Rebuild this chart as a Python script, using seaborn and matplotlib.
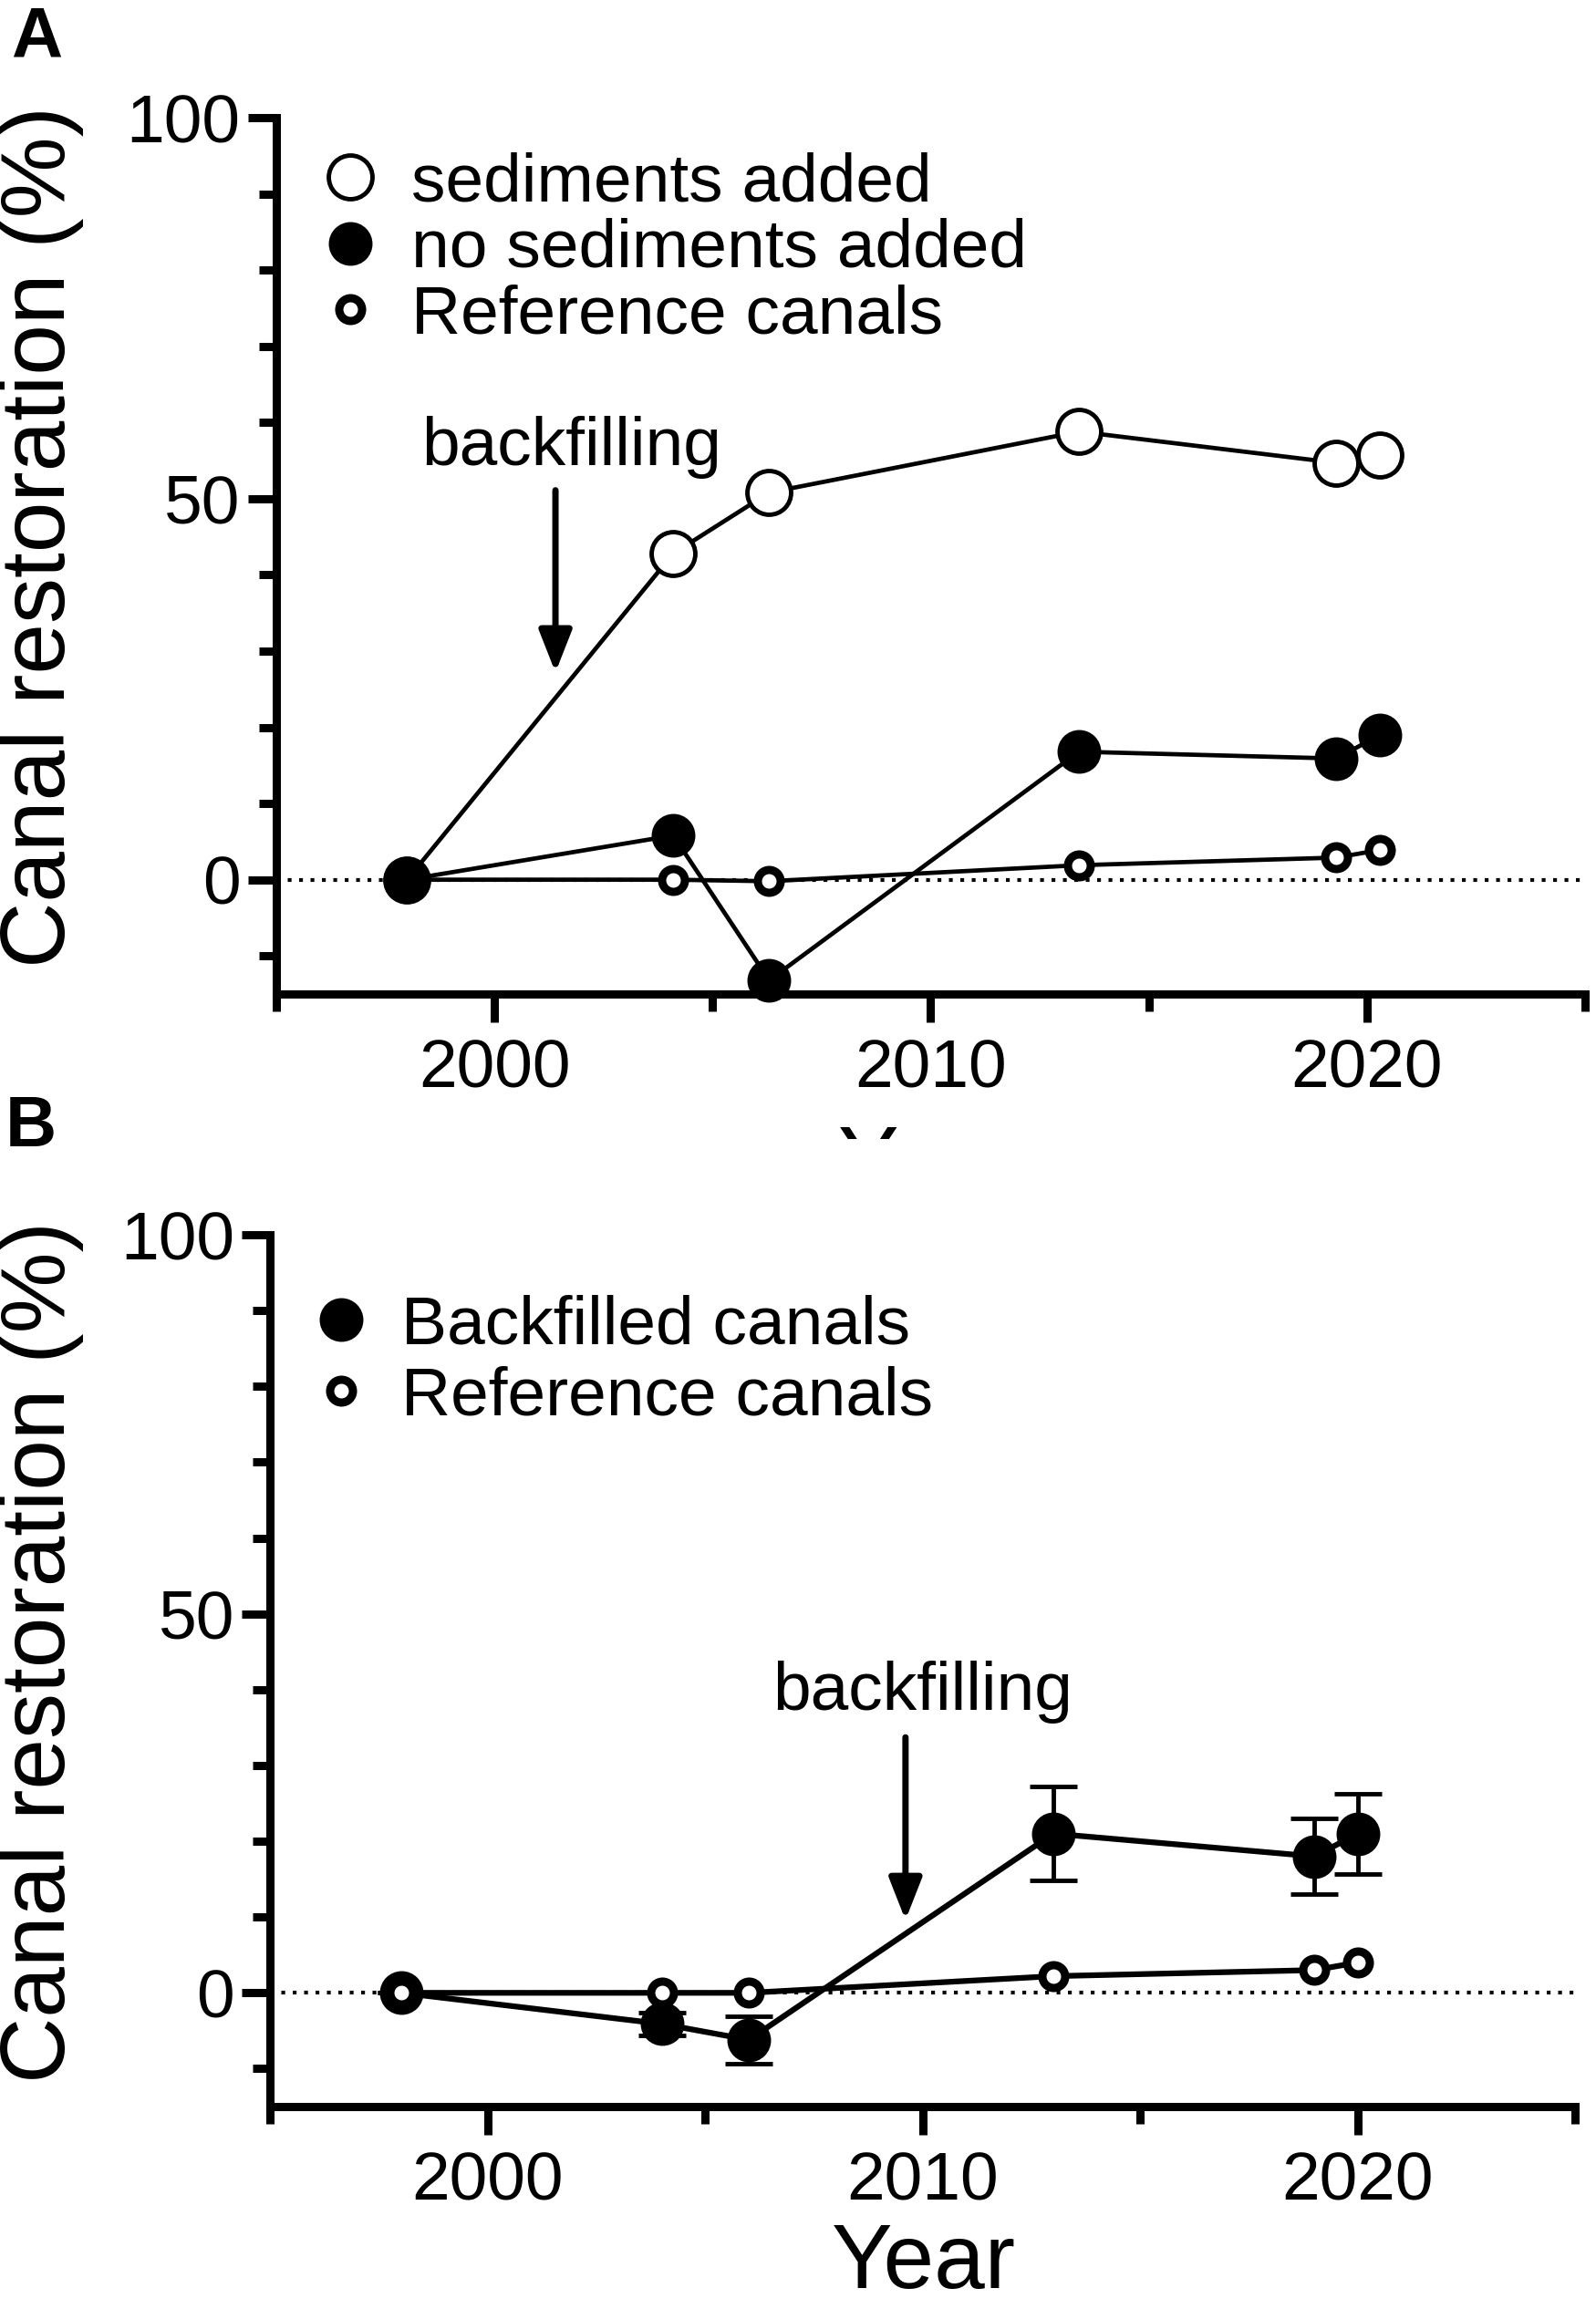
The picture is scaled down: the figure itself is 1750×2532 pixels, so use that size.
import matplotlib
matplotlib.use("Agg")
import matplotlib.pyplot as plt
import seaborn as sns
import pandas as pd
from matplotlib.lines import Line2D
from matplotlib.ticker import MultipleLocator
from matplotlib.transforms import Bbox, TransformedBbox

# Panel A data
years_a = [1998.0, 2004.1, 2006.3, 2013.4, 2019.3, 2020.3]
sediments_added = [0.0, 42.8, 50.8, 58.8, 54.7, 55.7]
no_sediments_added = [0.0, 5.8, -13.2, 16.8, 15.9, 19.0]
reference_a = [0.0, 0.0, -0.2, 1.9, 2.9, 3.9]
labels_a = ["sediments added", "no sediments added", "Reference canals"]

# Panel B data
years_b = [1998, 2004, 2006, 2013, 2019, 2020]
backfilled = [0.0, -4.1, -6.2, 21.0, 18.0, 21.0]
backfilled_err = [0.0, 1.5, 3.1, 6.2, 5.0, 5.3]
reference_b = [0.0, 0.0, 0.0, 2.2, 3.0, 4.0]
labels_b = ["Backfilled canals", "Reference canals"]

x_ticks = [2000, 2010, 2020]
y_ticks = [0, 50, 100]

sns.set_style("ticks")
plt.rcParams["font.family"] = ["Liberation Sans", "DejaVu Sans"]
plt.rcParams.update({
    "text.color": "black",
    "axes.labelcolor": "black",
    "axes.edgecolor": "black",
    "xtick.color": "black",
    "ytick.color": "black",
})

TICK_FS = 54
LEG_FS = 54
LAB_FS = 72

# marker styles
open_big = dict(marker="o", markersize=34.5, markerfacecolor="white",
                markeredgecolor="black", markeredgewidth=3.5)
filled_big = dict(marker="o", markersize=33, markerfacecolor="black",
                  markeredgecolor="black", markeredgewidth=1.5)
small_ref = dict(marker="o", markersize=18, markerfacecolor="white",
                 markeredgecolor="black", markeredgewidth=6.5)


def style_axes(ax):
    ax.set_xlim(1995, 2025)
    ax.set_ylim(-15, 100)
    ax.set_xticks(x_ticks)
    ax.set_yticks(y_ticks)
    ax.xaxis.set_minor_locator(MultipleLocator(5))
    ax.yaxis.set_minor_locator(MultipleLocator(10))
    for side in ["top", "right"]:
        ax.spines[side].set_visible(False)
    for side in ["left", "bottom"]:
        ax.spines[side].set_linewidth(6.5)
        ax.spines[side].set_color("black")
    ax.tick_params(which="major", length=22, width=6.5, direction="out",
                   labelsize=TICK_FS, color="black", labelcolor="black")
    ax.tick_params(which="minor", length=14, width=6.5, direction="out",
                   color="black")
    ax.tick_params(axis="x", which="major", pad=13)
    ax.tick_params(axis="y", which="major", pad=6.5)
    ax.set_xlabel("")
    ax.set_ylabel("")
    ax.axhline(0, color="black", lw=3, ls=(0, (1, 2)), zorder=1)


fig = plt.figure(figsize=(17.5, 25.32), dpi=100)
ax_a = fig.add_axes([0.1731, 0.56951, 0.8200, 0.37954])
ax_b = fig.add_axes([0.1694, 0.08768, 0.8177, 0.37756])

# ---- Panel A ----
style_axes(ax_a)
sns.lineplot(x=years_a, y=sediments_added, ax=ax_a, color="black", linewidth=3.4,
             errorbar=None, zorder=3, clip_on=False, **open_big)
sns.lineplot(x=years_a, y=reference_a, ax=ax_a, color="black", linewidth=3.4,
             errorbar=None, zorder=4, clip_on=False, **small_ref)
sns.lineplot(x=years_a, y=no_sediments_added, ax=ax_a, color="black", linewidth=3.4,
             errorbar=None, zorder=5, clip_on=False, **filled_big)

ax_a.annotate("", xy=(2001.4, 27.2), xytext=(2001.4, 51.1),
              arrowprops=dict(arrowstyle="-|>,head_length=28,head_width=11",
                              mutation_scale=1, lw=5, color="black",
                              shrinkA=0, shrinkB=0))
ax_a.text(2001.77, 54.4, "backfilling", ha="center", va="baseline", fontsize=LEG_FS)

handles_a = [Line2D([], [], ls="none", **open_big),
             Line2D([], [], ls="none", **filled_big),
             Line2D([], [], ls="none", **small_ref)]
ax_a.legend(handles_a, labels_a, loc="upper left", bbox_to_anchor=(0.0303, 0.9615),
            frameon=False, fontsize=LEG_FS, handlelength=1.0, handletextpad=0.39,
            labelspacing=0.05, borderpad=0, borderaxespad=0, labelcolor="black")

# ---- Panel B ----
style_axes(ax_b)
ax_b.errorbar(years_b, backfilled, yerr=backfilled_err, fmt="none", ecolor="black",
              elinewidth=3.5, capsize=19, capthick=3.5, zorder=2)
sns.lineplot(x=years_b, y=backfilled, ax=ax_b, color="black", linewidth=4.5,
             errorbar=None, zorder=3, clip_on=False, **filled_big)
sns.lineplot(x=years_b, y=reference_b, ax=ax_b, color="black", linewidth=4.5,
             errorbar=None, zorder=4, clip_on=False, **small_ref)

ax_b.annotate("", xy=(2009.6, 9.6), xytext=(2009.6, 33.7),
              arrowprops=dict(arrowstyle="-|>,head_length=28,head_width=11",
                              mutation_scale=1, lw=5, color="black",
                              shrinkA=0, shrinkB=0))
ax_b.text(2010.0, 37.3, "backfilling", ha="center", va="baseline", fontsize=LEG_FS)

handles_b = [Line2D([], [], ls="none", **filled_big),
             Line2D([], [], ls="none", **small_ref)]
ax_b.legend(handles_b, labels_b, loc="upper left", bbox_to_anchor=(0.028, 0.932),
            frameon=False, fontsize=LEG_FS, handlelength=1.0, handletextpad=0.38,
            labelspacing=0.12, borderpad=0, borderaxespad=0, labelcolor="black")

# ---- axis titles and panel letters ----
fig.text(45 / 1750, 1 - 588 / 2532, "Canal restoration (%)", rotation=90,
         ha="center", va="center", fontsize=LAB_FS)
fig.text(45 / 1750, 1 - 1811 / 2532, "Canal restoration (%)", rotation=90,
         ha="center", va="center", fontsize=LAB_FS)

# panel A's axis title is hidden under panel B in the original, only its top shows
year_a = fig.text(0.5829, 0.4846, "Year", ha="center", va="baseline", fontsize=LAB_FS)
year_a.set_clip_box(TransformedBbox(Bbox([[0, 0.5067], [1, 1]]), fig.transFigure))
year_a.set_clip_on(True)
fig.text(0.5789, 0.0089, "Year", ha="center", va="baseline", fontsize=LAB_FS)

fig.text(12 / 1750, 1 - 62 / 2532, "A", ha="left", va="baseline",
         fontsize=56, fontweight="bold")
fig.text(6 / 1750, 1 - 1257 / 2532, "B", ha="left", va="baseline",
         fontsize=56, fontweight="bold")

fig.savefig("out.png", dpi=100)
